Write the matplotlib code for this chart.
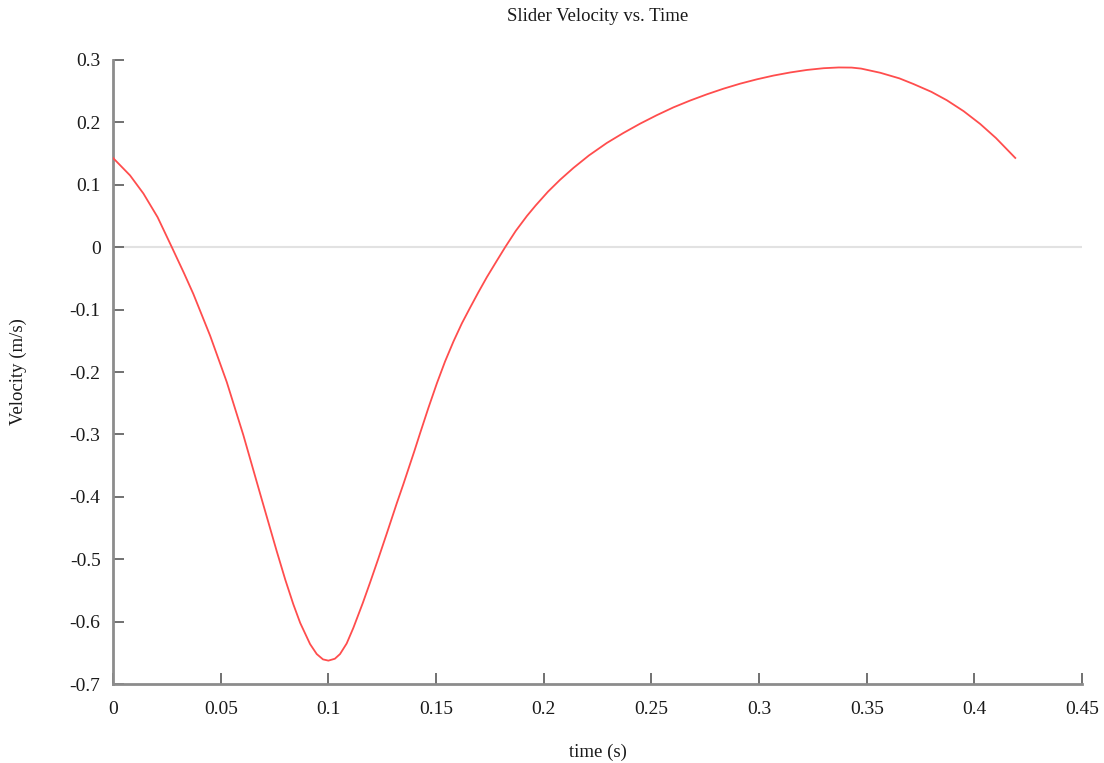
"""
Slider velocity vs. time — line chart.
"""
import matplotlib
matplotlib.use("Agg")
import matplotlib.pyplot as plt

# ── Data ────────────────────────────────────────────────────────────────────
time_s = [
    0.0000, 0.0079, 0.0141, 0.0207, 0.0273, 0.0330, 0.0373, 0.0451, 0.0528,
    0.0605, 0.0683, 0.0760, 0.0800, 0.0837, 0.0869, 0.0915, 0.0946, 0.0975,
    0.1000, 0.1030, 0.1054, 0.1085, 0.1116, 0.1160, 0.1194, 0.1230, 0.1271,
    0.1318, 0.1348, 0.1400, 0.1426, 0.1465, 0.1504, 0.1542, 0.1581, 0.1620,
    0.1658, 0.1697, 0.1736, 0.1780, 0.1821, 0.1870, 0.1922, 0.1963, 0.2020,
    0.2076, 0.2138, 0.2210, 0.2293, 0.2370, 0.2448, 0.2525, 0.2602, 0.2680,
    0.2758, 0.2835, 0.2912, 0.2990, 0.3067, 0.3145, 0.3222, 0.3300, 0.3370,
    0.3430, 0.3474, 0.3563, 0.3652, 0.3717, 0.3800, 0.3872, 0.3950, 0.4027,
    0.4100, 0.4190,
]
velocity = [
    0.143, 0.115, 0.086, 0.048, 0.000, -0.042, -0.075, -0.142, -0.216,
    -0.301, -0.395, -0.487, -0.533, -0.572, -0.602, -0.636, -0.652, -0.6605,
    -0.6625, -0.6595, -0.652, -0.635, -0.610, -0.570, -0.537, -0.501, -0.459,
    -0.410, -0.380, -0.326, -0.298, -0.257, -0.218, -0.183, -0.151, -0.122,
    -0.097, -0.072, -0.048, -0.023, 0.000, 0.026, 0.050, 0.067, 0.089,
    0.108, 0.127, 0.147, 0.167, 0.183, 0.198, 0.2115, 0.224, 0.235,
    0.245, 0.254, 0.262, 0.269, 0.275, 0.280, 0.284, 0.2868, 0.288,
    0.2878, 0.2862, 0.2795, 0.2705, 0.2615, 0.249, 0.2355, 0.218, 0.1975,
    0.175, 0.143,
]
x_ticks = [0, 0.05, 0.1, 0.15, 0.2, 0.25, 0.3, 0.35, 0.4, 0.45]
x_tick_labels = ["0", "0.05", "0.1", "0.15", "0.2", "0.25", "0.3", "0.35", "0.4", "0.45"]
y_ticks = [-0.7, -0.6, -0.5, -0.4, -0.3, -0.2, -0.1, 0, 0.1, 0.2, 0.3]
y_tick_labels = ["-0.7", "-0.6", "-0.5", "-0.4", "-0.3", "-0.2", "-0.1", "0", "0.1", "0.2", "0.3"]

plt.rcParams["font.family"] = ["Liberation Serif", "DejaVu Serif"]
TEXT_COLOR = "#1a1a1a"

fig = plt.figure(figsize=(11.04, 7.63), dpi=100)
ax = fig.add_axes([0.1024, 0.1035, 0.8777, 0.8179])

# zero reference line
ax.axhline(0, color="#e2e2e2", linewidth=1.5, zorder=1)

ax.plot(time_s, velocity, color="#ff4d4d", linewidth=1.3, zorder=3,
        solid_joinstyle="round")

ax.set_xlim(0, 0.45)
ax.set_ylim(-0.7, 0.3)
ax.set_xticks(x_ticks)
ax.set_xticklabels(x_tick_labels)
ax.set_yticks(y_ticks)
ax.set_yticklabels(y_tick_labels)

for side in ("top", "right"):
    ax.spines[side].set_visible(False)
for side in ("left", "bottom"):
    ax.spines[side].set_color("#8c8c8c")
    ax.spines[side].set_linewidth(2)

ax.tick_params(direction="in", length=8, width=1.3, color="#666666",
               labelsize=14, labelcolor=TEXT_COLOR)
ax.tick_params(axis="x", pad=12)
ax.tick_params(axis="y", pad=9)

# titles placed in figure coordinates to match the reference layout
fig.text(0.5412, 0.979, "Slider Velocity vs. Time", fontsize=13.5,
         color=TEXT_COLOR, ha="center", va="center")
fig.text(0.5412, 0.0144, "time (s)", fontsize=13.5,
         color=TEXT_COLOR, ha="center", va="center")
fig.text(0.0163, 0.5125, "Velocity (m/s)", fontsize=13.5, rotation=90,
         color=TEXT_COLOR, ha="center", va="center")

fig.savefig("out.png", dpi=100)
plt.close(fig)
